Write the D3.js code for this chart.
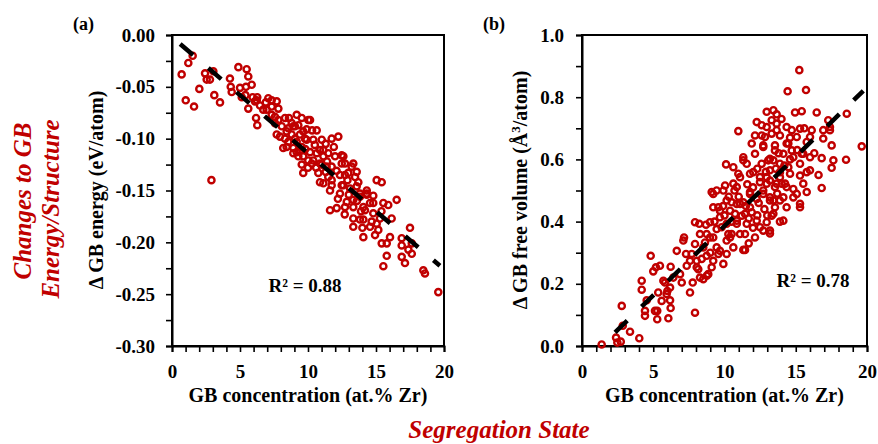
<!DOCTYPE html>
<html>
<head>
<meta charset="utf-8">
<script src="https://cdn.jsdelivr.net/npm/d3@7"></script>
<style>
  body { margin: 0; background: #fff; }
  text { font-family: "Liberation Serif", "Times New Roman", serif; font-weight: bold; }
</style>
</head>
<body>
<div id="chart"></div>
<script>
// panel (a): GB concentration vs change in GB energy
var concA = [0.71,1.01,1.20,1.52,1.62,2.01,2.43,2.55,2.79,3.04,3.11,3.53,4.26,4.32,4.39,4.88,5.00,5.13,5.44,5.49,
  5.61,5.86,5.93,6.10,5.61,6.27,6.18,6.27,6.47,6.71,7.08,7.33,7.33,7.82,7.70,8.31,8.07,8.43,9.17,9.04,
  8.80,8.18,8.55,9.17,7.94,7.57,2.90,
  7.33,7.57,8.55,9.54,10.15,9.29,9.65,8.31,9.04,9.78,8.92,9.54,10.39,10.64,11.01,11.74,12.23,10.15,10.88,11.49,
  9.65,10.39,11.13,11.99,12.48,9.54,10.27,11.01,11.74,12.48,13.33,9.65,10.76,11.49,12.35,12.96,13.58,13.70,10.88,11.74,
  12.48,13.09,14.32,15.05,
  12.60,12.72,13.46,12.60,14.32,13.82,13.33,12.72,15.42,14.80,15.54,15.90,16.52,14.19,13.33,14.07,14.68,15.29,16.15,13.33,
  14.56,15.17,14.07,14.93,16.03,15.42,15.79,17.50,16.89,16.89,17.63,17.38,17.63,15.79,16.89,17.13,15.54,18.48,18.60,19.58,
  7.82,8.80,10.02,9.41,9.90,8.43,9.41,9.29,10.02,10.64,11.13,10.88,11.37,11.13,11.74,11.62,12.35,11.62,12.11,12.85,
  12.72,13.21,13.58,13.82,13.33,14.07,14.32,14.56,13.82,14.80,15.05,7.70,6.96,6.23,8.92,9.17,8.92,
  9.80,10.50,11.30,11.90,10.00,10.60,11.30,12.10,12.90,12.20,13.00,13.60,14.80,14.00,15.40,11.40,12.70,13.90,10.30,8.60,
  6.90,5.40,9.90];
var dEnergy = [-0.038,-0.063,-0.027,-0.020,-0.069,-0.052,-0.037,-0.043,-0.043,-0.035,-0.058,-0.065,-0.042,-0.050,-0.055,-0.031,-0.051,-0.060,-0.050,-0.033,
  -0.040,-0.048,-0.060,-0.064,-0.071,-0.060,-0.080,-0.087,-0.068,-0.072,-0.061,-0.069,-0.077,-0.071,-0.096,-0.080,-0.088,-0.093,-0.077,-0.088,
  -0.096,-0.109,-0.103,-0.113,-0.098,-0.085,-0.140,
  -0.063,-0.079,-0.090,-0.080,-0.082,-0.087,-0.093,-0.100,-0.100,-0.100,-0.109,-0.108,-0.101,-0.092,-0.101,-0.100,-0.098,-0.113,-0.111,-0.114,
  -0.117,-0.121,-0.117,-0.117,-0.116,-0.125,-0.124,-0.125,-0.127,-0.124,-0.124,-0.133,-0.133,-0.137,-0.135,-0.133,-0.132,-0.142,-0.142,-0.145,
  -0.145,-0.148,-0.150,-0.140,
  -0.117,-0.135,-0.137,-0.145,-0.154,-0.153,-0.159,-0.166,-0.142,-0.162,-0.162,-0.164,-0.159,-0.169,-0.177,-0.178,-0.180,-0.177,-0.177,-0.185,
  -0.185,-0.188,-0.195,-0.193,-0.195,-0.201,-0.201,-0.186,-0.196,-0.203,-0.201,-0.207,-0.211,-0.213,-0.214,-0.220,-0.223,-0.227,-0.230,-0.248,
  -0.082,-0.085,-0.082,-0.096,-0.101,-0.108,-0.111,-0.117,-0.121,-0.114,-0.111,-0.124,-0.127,-0.143,-0.140,-0.150,-0.153,-0.169,-0.167,-0.161,
  -0.124,-0.127,-0.146,-0.156,-0.166,-0.166,-0.153,-0.162,-0.178,-0.172,-0.182,-0.064,-0.072,-0.063,-0.088,-0.103,-0.114,
  -0.110,-0.106,-0.105,-0.108,-0.128,-0.128,-0.132,-0.131,-0.140,-0.158,-0.154,-0.160,-0.155,-0.186,-0.170,-0.122,-0.173,-0.170,-0.092,-0.080,
  -0.065,-0.058,-0.091];

// panel (b): GB concentration vs change in GB free volume
var concB = [1.38,2.39,2.48,2.72,3.37,4.02,2.79,4.19,4.19,4.42,4.42,4.82,5.00,5.28,5.28,5.35,5.47,5.59,5.71,5.99,
  6.06,6.22,6.22,6.65,6.88,7.00,7.16,7.35,7.30,7.58,7.93,7.77,7.93,8.16,8.23,8.51,8.75,8.86,8.75,7.70,2.86,
  10.97,10.11,11.32,13.89,13.19,5.19,5.94,7.11,7.58,8.51,9.21,9.45,10.04,12.26,
  7.93,8.28,9.10,9.21,8.98,8.63,9.21,9.68,9.92,9.80,10.27,9.45,10.15,9.21,9.92,10.62,10.97,11.32,10.51,11.09,
  10.74,11.21,10.86,11.56,11.44,12.14,11.44,12.49,12.96,11.79,12.26,12.72,13.19,12.49,13.19,11.79,12.61,13.19,12.14,12.72,
  13.54,13.89,14.01,13.54,11.91,13.31,11.91,8.05,9.10,11.44,
  15.25,14.43,15.72,12.96,13.43,13.66,14.95,15.42,16.47,18.58,13.66,12.61,12.84,13.31,13.89,14.72,15.30,16.12,16.93,17.40,
  17.28,16.93,17.52,15.77,15.07,14.36,12.72,13.54,15.42,14.83,13.07,13.89,14.48,16.00,15.30,16.82,17.64,17.52,18.53,19.63,
  16.82,15.77,12.96,13.54,14.25,14.83,13.19,14.13,14.83,15.30,14.36,
  12.14,11.32,11.56,12.02,11.09,10.62,10.86,10.15,10.39,11.79,12.26,12.72,13.19,13.43,13.89,15.30,15.07,15.53,15.77,15.30,
  15.53,16.00,16.00,17.40,14.36,13.66,12.96,12.61,13.31,14.48,14.72,14.13,13.43,13.19,13.89,14.60,14.36,13.66,12.96,12.49,
  12.72,13.43,14.13,11.79,11.32,10.86,9.57,9.68,10.15,9.45,8.98,10.39,11.09,10.86,10.62,10.15,9.68,8.05,8.28,8.75,
  9.57,6.41,6.18,5.82,6.18,5.12,4.54,
  10.30,10.70,11.00,11.60,12.00,12.40,12.80,13.00,13.70,14.20,14.60,12.30,12.90,13.60,11.50,11.70,12.00,10.50,10.00,9.90,
  9.30,8.70,9.00,8.40,10.50,11.70,12.30,13.80,14.60,15.10,16.30,16.60,14.00,15.60];
var dVolume = [0.005,0.027,0.011,0.014,0.046,0.025,0.129,0.210,0.181,0.113,0.097,0.290,0.240,0.113,0.086,0.172,0.258,0.145,0.210,0.177,
  0.089,0.122,0.255,0.306,0.231,0.204,0.349,0.258,0.296,0.172,0.107,0.204,0.328,0.247,0.393,0.215,0.290,0.231,0.360,0.296,0.065,
  0.691,0.584,0.309,0.400,0.362,0.253,0.167,0.339,0.274,0.317,0.489,0.500,0.516,0.720,
  0.398,0.360,0.495,0.446,0.398,0.333,0.349,0.435,0.500,0.382,0.360,0.317,0.339,0.274,0.264,0.522,0.554,0.597,0.462,0.457,
  0.425,0.419,0.393,0.393,0.360,0.349,0.309,0.382,0.398,0.495,0.473,0.500,0.468,0.527,0.532,0.554,0.586,0.602,0.618,0.645,
  0.645,0.559,0.522,0.446,0.430,0.419,0.651,0.274,0.253,0.425,
  0.887,0.819,0.823,0.753,0.758,0.745,0.751,0.755,0.751,0.747,0.715,0.710,0.672,0.683,0.677,0.694,0.699,0.694,0.694,0.694,
  0.726,0.667,0.645,0.656,0.672,0.651,0.640,0.629,0.618,0.607,0.597,0.586,0.575,0.565,0.548,0.604,0.597,0.573,0.599,0.642,
  0.508,0.495,0.543,0.511,0.522,0.505,0.478,0.478,0.478,0.446,0.446,
  0.677,0.607,0.586,0.559,0.543,0.575,0.511,0.468,0.435,0.446,0.403,0.371,0.371,0.425,0.468,0.457,0.489,0.522,0.559,0.586,
  0.618,0.607,0.672,0.704,0.704,0.694,0.704,0.677,0.726,0.651,0.629,0.618,0.597,0.565,0.543,0.554,0.511,0.522,0.522,0.543,
  0.489,0.468,0.403,0.489,0.462,0.457,0.446,0.414,0.393,0.376,0.349,0.349,0.360,0.403,0.317,0.296,0.306,0.253,0.220,0.226,
  0.296,0.220,0.188,0.204,0.147,0.113,0.147,
  0.480,0.500,0.480,0.520,0.510,0.460,0.440,0.420,0.490,0.580,0.600,0.570,0.560,0.570,0.450,0.410,0.380,0.400,0.420,0.450,
  0.400,0.390,0.300,0.280,0.360,0.330,0.420,0.620,0.670,0.630,0.620,0.550,0.730,0.700];

// linear fits drawn as dashed lines
var fitA = {slope: -0.0112, intercept: -0.002, from: 0.6, to: 19.7, r2: "0.88"};
var fitB = {slope: 0.0446, intercept: -0.060, from: 2.32, to: 19.74, r2: "0.78"};

var ticksA = d3.range(0, 13).map(function(i) { return -i * 0.025; });
var ticksB = d3.range(0, 11).map(function(i) { return i * 0.1; });
var ticksX = d3.range(0, 21);

var red = "#c00000";

var svg = d3.select("#chart")
  .append("svg")
    .attr("width", 878)
    .attr("height", 444);

function drawPanel(p) {
  var x = d3.scaleLinear().domain([0, 20]).range([p.left, p.right]);
  var y = d3.scaleLinear().domain(p.yDomain).range([p.bottom, p.top]);

  var g = svg.append("g");

  // frame
  g.append("rect")
    .attr("x", p.left).attr("y", p.top)
    .attr("width", p.right - p.left).attr("height", p.bottom - p.top)
    .attr("fill", "none").attr("stroke", "#000").attr("stroke-width", 2);

  // X axis
  var xa = g.append("g")
    .attr("transform", "translate(0," + p.bottom + ")")
    .call(d3.axisBottom(x).tickValues(ticksX).tickSize(6).tickPadding(13)
      .tickFormat(function(d) { return d % 5 === 0 ? d : ""; }));
  // Y axis
  var ya = g.append("g")
    .attr("transform", "translate(" + p.left + ",0)")
    .call(d3.axisLeft(y).tickValues(p.yTicks).tickSize(6).tickPadding(p.pad)
      .tickFormat(function(d, i) { return i % 2 === 0 ? d.toFixed(p.digits) : ""; }));

  [xa, ya].forEach(function(a) {
    a.select(".domain").attr("stroke-width", 2);
    a.selectAll(".tick line").attr("stroke-width", 1.6);
    a.selectAll("text")
      .attr("font-size", "19px")
      .attr("font-family", "'Liberation Serif', serif")
      .attr("font-weight", "bold")
      .attr("fill", "#000");
  });

  // points
  g.selectAll("circle.pt")
    .data(p.xs)
    .enter()
    .append("circle")
      .attr("class", "pt")
      .attr("cx", function(d) { return x(d); })
      .attr("cy", function(d, i) { return y(p.ys[i]); })
      .attr("r", 3.1)
      .attr("fill", "none")
      .attr("stroke", red)
      .attr("stroke-width", 2.4);

  // fit line
  var f = p.fit;
  g.append("line")
    .attr("x1", x(f.from)).attr("y1", y(f.slope * f.from + f.intercept))
    .attr("x2", x(f.to)).attr("y2", y(f.slope * f.to + f.intercept))
    .attr("stroke", "#000")
    .attr("stroke-width", 4.5)
    .attr("stroke-dasharray", "17,20");

  // R2 label
  g.append("text")
    .attr("x", p.r2x).attr("y", p.r2y)
    .attr("text-anchor", "middle")
    .attr("font-size", "19px")
    .text("R\u00b2 = " + f.r2);

  // panel letter
  g.append("text")
    .attr("x", p.left - 99).attr("y", 30)
    .attr("font-size", "18px")
    .text(p.letter);

  // x title
  g.append("text")
    .attr("x", (p.left + p.right) / 2).attr("y", 402)
    .attr("text-anchor", "middle")
    .attr("font-size", "20px")
    .text("GB concentration (at.% Zr)");

  return g;
}

var gA = drawPanel({left: 172, right: 444, top: 35, bottom: 346, yDomain: [-0.30, 0],
  yTicks: ticksA, digits: 2, pad: 11, xs: concA, ys: dEnergy, fit: fitA,
  r2x: 305, r2y: 292, letter: "(a)"});
var gB = drawPanel({left: 582, right: 867, top: 35, bottom: 346, yDomain: [0, 1.0],
  yTicks: ticksB, digits: 1, pad: 12, xs: concB, ys: dVolume, fit: fitB,
  r2x: 813, r2y: 287, letter: "(b)"});

// y titles
gA.append("text")
  .attr("transform", "translate(103,190) rotate(-90)")
  .attr("text-anchor", "middle")
  .attr("font-size", "20px")
  .text("\u0394 GB energy (eV/atom)");

var tb = gB.append("text")
  .attr("transform", "translate(527,190) rotate(-90)")
  .attr("text-anchor", "middle")
  .attr("font-size", "20px");
tb.append("tspan").text("\u0394 GB free volume (\u00c5");
tb.append("tspan").attr("baseline-shift", "super").attr("font-size", "13px").text("3");
tb.append("tspan").text("/atom)");

// red side / bottom labels
svg.append("text")
  .attr("transform", "translate(31,201) rotate(-90)")
  .attr("text-anchor", "middle")
  .attr("font-size", "25px").attr("font-style", "italic")
  .attr("fill", red)
  .text("Changes to GB");
svg.append("text")
  .attr("transform", "translate(59,209) rotate(-90)")
  .attr("text-anchor", "middle")
  .attr("font-size", "25px").attr("font-style", "italic")
  .attr("fill", red)
  .text("Energy/Structure");
svg.append("text")
  .attr("x", 499).attr("y", 438)
  .attr("text-anchor", "middle")
  .attr("font-size", "25px").attr("font-style", "italic")
  .attr("fill", red)
  .text("Segregation State");
</script>
</body>
</html>
